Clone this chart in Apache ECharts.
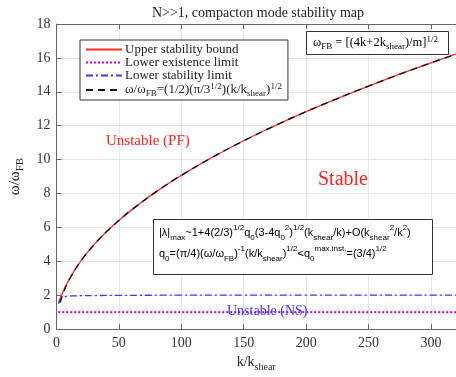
<!DOCTYPE html>
<html>
<head>
<meta charset="utf-8">
<script src="https://cdn.jsdelivr.net/npm/echarts@6/dist/echarts.min.js"></script>
<style>
  html, body { margin: 0; padding: 0; background: #fff; }
  #chart { width: 456px; height: 377px; }
</style>
</head>
<body>
<div id="chart"></div>
<script>
// values
const kUpper = [1.6, 2.5, 4, 6, 8, 10, 15, 20, 30, 40, 50, 60, 80, 100, 125, 150, 175, 200, 225, 250, 275, 300, 320];
const upper = [1.55, 1.72, 1.98, 2.32, 2.62, 2.9, 3.52, 4.06, 4.97, 5.74, 6.41, 7.02, 8.11, 9.07, 10.14, 11.11, 12.0, 12.83, 13.6, 14.34, 15.04, 15.71, 16.22];

const kExist = [1.5, 320];
const exist = [1.0, 1.0];

const kStab = [1.5, 2.5, 3, 4, 5, 7, 10, 15, 20, 30, 50, 100, 150, 200, 250, 300, 320];
const stab = [1.5, 1.62, 1.7, 1.8, 1.86, 1.91, 1.94, 1.96, 1.97, 1.98, 1.99, 2.0, 2.0, 2.0, 2.0, 2.0, 2.0];

const kFit = [3, 5, 10, 20, 30, 40, 50, 60, 80, 100, 125, 150, 175, 200, 225, 250, 275, 300, 320];
const fit = [1.57, 2.03, 2.87, 4.06, 4.97, 5.74, 6.41, 7.02, 8.11, 9.07, 10.14, 11.11, 12.0, 12.83, 13.6, 14.34, 15.04, 15.71, 16.22];

const xTicks = [0, 50, 100, 150, 200, 250, 300];

const SERIF = '"Liberation Serif", "DejaVu Serif", serif';
const SANS = '"Liberation Sans", Arial, sans-serif';

// n = normal text, sub/sup = small text pushed down/up by "shift" px
function richSet(family, size, shift) {
  const small = Math.round(size * 0.72);
  const lh = 2 * shift + 8;
  return {
    n: { fontFamily: family, fontSize: size, lineHeight: lh, color: '#222' },
    sub: { fontFamily: family, fontSize: small, lineHeight: 8, verticalAlign: 'bottom', color: '#222' },
    sup: { fontFamily: family, fontSize: small, lineHeight: 8, verticalAlign: 'top', color: '#222' }
  };
}

const legendLabels = {
  'Upper stability bound': '{n|Upper stability bound}',
  'Lower existence limit': '{n|Lower existence limit}',
  'Lower stability limit': '{n|Lower stability limit}',
  'fit': '{n|ω/ω}{sub|FB}{n|=(1/2)(π/3}{sup|1/2}{n|)(k/k}{sub|shear}{n|)}{sup|1/2}'
};

const pairs = (xs, ys) => xs.map((x, i) => [x, ys[i]]);

const chart = echarts.init(document.getElementById('chart'));

chart.setOption({
  animation: false,
  grid: { left: 53, top: 24, right: -7, bottom: 43 },
  legend: {
    orient: 'vertical',
    left: 80,
    top: 40,
    backgroundColor: '#fff',
    borderColor: '#333',
    borderWidth: 1,
    padding: [3, 6, 2, 5],
    itemGap: 0,
    itemWidth: 36,
    itemHeight: 12,
    itemStyle: { opacity: 0 },
    data: ['Upper stability bound', 'Lower existence limit', 'Lower stability limit', 'fit'],
    formatter: name => legendLabels[name],
    textStyle: { fontFamily: SERIF, fontSize: 13, color: '#222', padding: [0, 0, 0, -2], rich: richSet(SERIF, 13, 4) }
  },
  xAxis: [{
    type: 'value',
    min: 0,
    max: 320,
    interval: 50,
    position: 'bottom',
    axisLine: { show: true, onZero: false, lineStyle: { color: '#666' } },
    axisTick: { show: true, inside: true, length: 5, lineStyle: { color: '#666' } },
    axisLabel: {
      showMaxLabel: false,
      margin: 7,
      color: '#333',
      fontFamily: SERIF,
      fontSize: 14,
      formatter: v => (xTicks.indexOf(v) >= 0 ? String(v) : '')
    },
    splitLine: { show: true, lineStyle: { color: '#e6e6e6' } },
    name: '{n|k/k}{sub|shear}',
    nameLocation: 'middle',
    nameGap: 22,
    nameTextStyle: { fontFamily: SERIF, fontSize: 14, color: '#333', rich: richSet(SERIF, 14, 6) }
  }, {
    type: 'value',
    min: 0,
    max: 320,
    interval: 50,
    position: 'top',
    axisLine: { show: true, onZero: false, lineStyle: { color: '#666' } },
    axisTick: { show: true, inside: true, length: 5, lineStyle: { color: '#666' } },
    axisLabel: { show: false },
    splitLine: { show: false }
  }],
  yAxis: {
    type: 'value',
    min: 0,
    max: 18,
    interval: 2,
    axisLine: { show: true, onZero: false, lineStyle: { color: '#666' } },
    axisTick: { show: true, inside: true, length: 5, lineStyle: { color: '#666' } },
    axisLabel: { margin: 6, color: '#333', fontFamily: SERIF, fontSize: 14 },
    splitLine: { show: true, lineStyle: { color: '#e6e6e6' } },
    name: '{n|ω/ω}{sub|FB}',
    nameLocation: 'middle',
    nameGap: 21,
    nameTextStyle: { fontFamily: SERIF, fontSize: 15, color: '#333', rich: richSet(SERIF, 15, 6) }
  },
  series: [{
    name: 'Upper stability bound',
    type: 'line',
    data: pairs(kUpper, upper),
    smooth: true,
    symbol: 'none',
    lineStyle: { color: '#ff2a2a', width: 1.3 },
    itemStyle: { color: '#ff2a2a' }
  }, {
    name: 'Lower existence limit',
    type: 'line',
    data: pairs(kExist, exist),
    symbol: 'none',
    lineStyle: { color: '#d000d0', width: 2, type: [2, 2] },
    itemStyle: { color: '#d000d0' }
  }, {
    name: 'Lower stability limit',
    type: 'line',
    data: pairs(kStab, stab),
    smooth: true,
    symbol: 'none',
    lineStyle: { color: '#3a3aff', width: 1.3, type: [7, 3, 2, 3] },
    itemStyle: { color: '#3a3aff' }
  }, {
    name: 'fit',
    type: 'line',
    data: pairs(kFit, fit),
    smooth: true,
    symbol: 'none',
    lineStyle: { color: '#111', width: 1.4, type: [7, 5] },
    itemStyle: { color: '#111' }
  }],
  graphic: [{
    type: 'text',
    x: 258, y: 13, z: 100,
    style: {
      text: 'N>>1, compacton mode stability map',
      fontFamily: SERIF, fontSize: 14, fill: '#222',
      align: 'center', verticalAlign: 'middle'
    }
  }, {
    type: 'rect', z: 100,
    shape: { x: 306.5, y: 31.5, width: 142, height: 23 },
    style: { fill: '#fff', stroke: '#333', lineWidth: 1 }
  }, {
    type: 'text', x: 313, y: 43, z: 101,
    style: {
      text: '{n|ω}{sub|FB}{n| = [(4k+2k}{sub|shear}{n|)/m]}{sup|1/2}',
      rich: richSet(SERIF, 12.5, 4),
      verticalAlign: 'middle'
    }
  }, {
    type: 'rect', z: 100,
    shape: { x: 153.5, y: 219.5, width: 279, height: 55 },
    style: { fill: '#fff', stroke: '#333', lineWidth: 1 }
  }, {
    type: 'text', x: 159, y: 233, z: 101,
    style: {
      text: '{n||λ|}{sub|max}{n|~1+4(2/3)}{sup|1/2}{n|q}{sub|0}{n|(3-4q}{sub|0}{sup|2}{n|)}{sup|1/2}{n|(k}{sub|shear}{n|/k)+O(k}{sub|shear}{sup|2}{n|/k}{sup|2}{n|)}',
      rich: richSet(SANS, 11, 5),
      verticalAlign: 'middle'
    }
  }, {
    type: 'text', x: 159, y: 254, z: 101,
    style: {
      text: '{n|q}{sub|0}{n|=(π/4)(ω/ω}{sub|FB}{n|)}{sup|-1}{n|(k/k}{sub|shear}{n|)}{sup|1/2}{n|<q}{sub|0}{sup|max.inst.}{n|=(3/4)}{sup|1/2}',
      rich: richSet(SANS, 11, 5),
      verticalAlign: 'middle'
    }
  }, {
    type: 'text', x: 106, y: 141, z: 100,
    style: { text: 'Unstable (PF)', fontFamily: SERIF, fontSize: 15, fill: '#ff2020', verticalAlign: 'middle' }
  }, {
    type: 'text', x: 318, y: 180, z: 100,
    style: { text: 'Stable', fontFamily: SERIF, fontSize: 20, fill: '#ff2020', verticalAlign: 'middle' }
  }, {
    type: 'text', x: 227, y: 311, z: 100,
    style: { text: 'Unstable (NS)', fontFamily: SERIF, fontSize: 14, fill: '#3a3aff', verticalAlign: 'middle' }
  }]
});
</script>
</body>
</html>
